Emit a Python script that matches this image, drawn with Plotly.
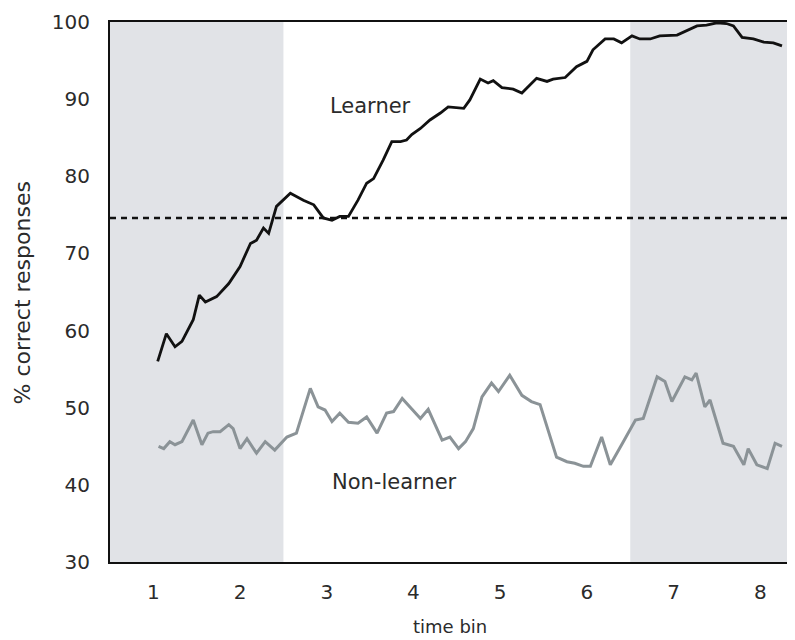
import plotly.graph_objects as go

# ---- data ----
learner_x = [1.05, 1.15, 1.25, 1.33, 1.46, 1.53, 1.60, 1.73, 1.87, 2.00, 2.12, 2.19, 2.27, 2.33,
             2.42, 2.58, 2.73, 2.85, 2.96, 3.06, 3.15, 3.25, 3.36, 3.46, 3.54, 3.65, 3.75, 3.85,
             3.92, 3.98, 4.08, 4.19, 4.31, 4.40, 4.58, 4.65, 4.77, 4.86, 4.92, 5.02, 5.15, 5.25,
             5.42, 5.54, 5.61, 5.75, 5.88, 6.00, 6.07, 6.21, 6.31, 6.40, 6.52, 6.61, 6.73, 6.84,
             7.04, 7.15, 7.27, 7.38, 7.50, 7.61, 7.69, 7.79, 7.92, 8.04, 8.15, 8.25]
learner_y = [56.0, 59.6, 57.9, 58.6, 61.4, 64.6, 63.7, 64.4, 66.1, 68.3, 71.3, 71.7, 73.3, 72.6,
             76.1, 77.8, 76.9, 76.3, 74.6, 74.3, 74.8, 74.8, 76.9, 79.1, 79.7, 82.1, 84.5, 84.5,
             84.7, 85.4, 86.2, 87.3, 88.2, 89.0, 88.8, 89.9, 92.6, 92.1, 92.4, 91.5, 91.3, 90.8,
             92.7, 92.3, 92.6, 92.8, 94.2, 94.9, 96.4, 97.8, 97.8, 97.3, 98.2, 97.8, 97.8, 98.2,
             98.3, 98.9, 99.5, 99.6, 99.9, 99.8, 99.5, 98.0, 97.8, 97.4, 97.3, 96.9]

nonlearner_x = [1.06, 1.12, 1.19, 1.25, 1.33, 1.46, 1.56, 1.63, 1.69, 1.77, 1.87, 1.92, 2.00, 2.08,
                2.19, 2.29, 2.40, 2.54, 2.65, 2.81, 2.90, 2.98, 3.06, 3.15, 3.25, 3.36, 3.46, 3.58,
                3.69, 3.77, 3.87, 4.08, 4.17, 4.33, 4.42, 4.52, 4.60, 4.69, 4.79, 4.90, 4.98, 5.11,
                5.25, 5.36, 5.46, 5.65, 5.77, 5.86, 5.96, 6.04, 6.17, 6.27, 6.42, 6.56, 6.65, 6.81,
                6.90, 6.98, 7.13, 7.21, 7.26, 7.36, 7.42, 7.57, 7.69, 7.81, 7.86, 7.96, 8.08, 8.17,
                8.25]
nonlearner_y = [45.0, 44.7, 45.6, 45.2, 45.6, 48.4, 45.2, 46.7, 46.9, 46.9, 47.8, 47.3, 44.7, 46.0,
                44.1, 45.6, 44.5, 46.2, 46.7, 52.5, 50.1, 49.7, 48.2, 49.3, 48.1, 48.0, 48.8, 46.7,
                49.3, 49.5, 51.2, 48.6, 49.8, 45.8, 46.2, 44.7, 45.6, 47.3, 51.4, 53.2, 52.1, 54.2,
                51.6, 50.8, 50.4, 43.6, 43.0, 42.8, 42.4, 42.4, 46.2, 42.6, 45.6, 48.4, 48.6, 54.0,
                53.4, 50.8, 54.0, 53.6, 54.5, 50.1, 51.0, 45.4, 45.0, 42.6, 44.7, 42.6, 42.1, 45.4,
                45.0]

criterion = 74.6
shade_spans = [(0.5, 2.5), (6.5, 8.40)]
x_ticks = [1, 2, 3, 4, 5, 6, 7, 8]
y_ticks = [30, 40, 50, 60, 70, 80, 90, 100]

FONT = "DejaVu Sans, Liberation Sans, sans-serif"
TXT = "#2b2b2b"

fig = go.Figure()

fig.add_trace(go.Scatter(x=nonlearner_x, y=nonlearner_y, mode="lines",
                         line=dict(color="#8b9397", width=3), showlegend=False))
fig.add_trace(go.Scatter(x=learner_x, y=learner_y, mode="lines",
                         line=dict(color="#111111", width=2.8), showlegend=False))

for x0, x1 in shade_spans:
    fig.add_shape(type="rect", xref="x", yref="paper", x0=x0, x1=x1, y0=0, y1=1,
                  fillcolor="#e1e3e7", line=dict(width=0), layer="below")

fig.add_shape(type="line", xref="paper", yref="y", x0=0, x1=1, y0=criterion, y1=criterion,
              line=dict(color="#111111", width=2.4, dash="6px,5px"))

fig.add_annotation(x=3.50, y=89.1, text="Learner", showarrow=False,
                   font=dict(family=FONT, size=21, color=TXT))
fig.add_annotation(x=3.78, y=40.4, text="Non-learner", showarrow=False,
                   font=dict(family=FONT, size=21, color=TXT))

fig.add_annotation(xref="paper", yref="paper", x=-0.128, y=0.498, text="% correct responses",
                   textangle=-90, showarrow=False, xanchor="center", yanchor="middle",
                   font=dict(family=FONT, size=22, color=TXT))
fig.add_annotation(xref="paper", yref="paper", x=0.496, y=-0.12, text="time bin",
                   showarrow=False, xanchor="center", yanchor="middle",
                   font=dict(family=FONT, size=18, color=TXT))

fig.update_xaxes(range=[0.5, 8.40], tickvals=x_ticks, ticktext=[str(v) for v in x_ticks],
                 showgrid=False, zeroline=False, showline=True, linecolor="#111111",
                 linewidth=2.2, mirror=True, ticks="", ticklabelstandoff=11, automargin=False,
                 tickfont=dict(family=FONT, size=20, color=TXT))
fig.update_yaxes(range=[30, 100], tickvals=y_ticks, ticktext=[str(v) for v in y_ticks],
                 showgrid=False, zeroline=False, showline=True, linecolor="#111111",
                 linewidth=2.2, ticks="", ticklabelstandoff=14, automargin=False,
                 tickfont=dict(family=FONT, size=20, color=TXT))

fig.update_layout(width=787, height=632, margin=dict(l=102, r=0, t=14, b=78),
                  plot_bgcolor="white", paper_bgcolor="white", showlegend=False)

fig.write_html("out.html")
